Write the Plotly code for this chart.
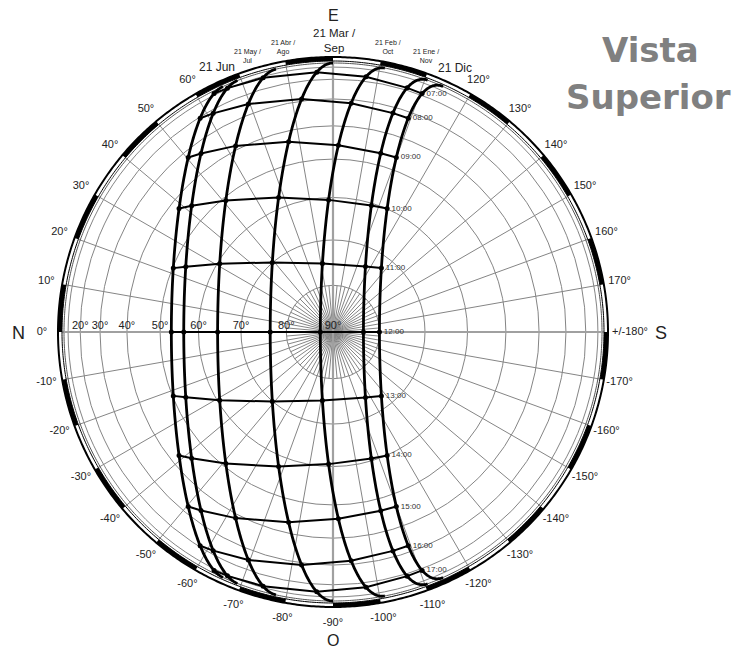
import numpy as np
import plotly.graph_objects as go

# ---------------- data ----------------
LATITUDE = -13.5  # degrees (southern hemisphere)
date_names = ["21 Jun", "21 May / Jul", "21 Abr / Ago", "21 Mar / Sep",
              "21 Feb / Oct", "21 Ene / Nov", "21 Dic"]
declinations = [23.44, 20.2, 11.9, 0.0, -10.8, -20.0, -23.44]
hours = [7, 8, 9, 10, 11, 12, 13, 14, 15, 16, 17]
hour_labels = ["07:00", "08:00", "09:00", "10:00", "11:00", "12:00",
               "13:00", "14:00", "15:00", "16:00", "17:00"]
alt_circles = [10, 20, 30, 40, 50, 60, 70, 80]
alt_label_values = [20, 30, 40, 50, 60, 70, 80, 90]
az_label_values = [0, 10, 20, 30, 40, 50, 60, 120, 130, 140, 150, 160, 170,
                   -170, -160, -150, -140, -130, -120, -110, -100, -90, -80,
                   -70, -60, -50, -40, -30, -20, -10]
az_label_texts = [f"{v}°" for v in az_label_values]

# ---------------- geometry ----------------
OFF = 8                # page body margin
W, H = 741 - 2 * OFF, 659 - 2 * OFF
CX, CY = 333 - OFF, 332 - OFF   # centre in figure pixels
R_PX = 269.0          # horizon radius in px
R_OUT = 275.0         # outer rim radius
R_BAND = 271.0        # inner edge of the rim band
R_DOM = 296.0         # polar domain radius (room for labels)

rmax = R_DOM / R_PX
r_out = R_OUT / R_PX
band_base = R_BAND / R_PX


def sun_position(decl, hour_angle):
    phi = np.radians(LATITUDE)
    d = np.radians(decl)
    h = np.radians(hour_angle)
    east = -np.cos(d) * np.sin(h)
    north = np.cos(phi) * np.sin(d) - np.sin(phi) * np.cos(d) * np.cos(h)
    up = np.sin(phi) * np.sin(d) + np.cos(phi) * np.cos(d) * np.cos(h)
    az = np.degrees(np.arctan2(east, north))
    r = np.sqrt(east ** 2 + north ** 2)  # orthographic projection = cos(alt)
    return az, r, up


fig = go.Figure()
GRID = "#858585"
FONT = "Liberation Sans, Arial"

# radial (azimuth) grid lines every 10 deg
th, rr = [], []
for a in range(0, 360, 10):
    th += [a, a, None]
    rr += [0, band_base, None]
fig.add_trace(go.Scatterpolar(r=rr, theta=th, mode="lines",
                              line=dict(color=GRID, width=1), hoverinfo="skip"))

# extra dense radial lines near the zenith
th, rr = [], []
r80 = np.cos(np.radians(80))
for a in range(5, 360, 10):
    th += [a, a, None]
    rr += [0, r80, None]
fig.add_trace(go.Scatterpolar(r=rr, theta=th, mode="lines",
                              line=dict(color=GRID, width=1), hoverinfo="skip"))

# rim band (alternating black segments)
band_theta = list(range(5, 360, 20))
fig.add_trace(go.Barpolar(r=[r_out - band_base] * len(band_theta), base=band_base,
                          theta=band_theta, width=[10] * len(band_theta),
                          marker=dict(color="black", line=dict(width=0)),
                          hoverinfo="skip"))

full = np.linspace(0, 360, 721)
for rad, col, wid in ((band_base, "black", 1), (1.0, "#555555", 1), (r_out, "black", 2)):
    fig.add_trace(go.Scatterpolar(r=[rad] * len(full), theta=full, mode="lines",
                                  line=dict(color=col, width=wid), hoverinfo="skip"))

# cardinal axes (thicker gray)
for a in (0, 90):
    fig.add_trace(go.Scatterpolar(r=[1, 0, 1], theta=[a, a, a + 180], mode="lines",
                                  line=dict(color="#a0a0a0", width=2.2),
                                  hoverinfo="skip"))

# sun paths
for decl in declinations:
    phi = np.radians(LATITUDE)
    h0 = np.degrees(np.arccos(np.clip(-np.tan(phi) * np.tan(np.radians(decl)), -1, 1)))
    ha = np.linspace(-h0, h0, 241)
    az, r, up = sun_position(decl, ha)
    fig.add_trace(go.Scatterpolar(r=r, theta=az, mode="lines",
                                  line=dict(color="black", width=2.8),
                                  hoverinfo="skip"))

# hour lines with dots
for hr in hours:
    ha = 15.0 * (hr - 12)
    azs, rs = [], []
    for decl in declinations:
        az, r, up = sun_position(decl, ha)
        azs.append(float(az))
        rs.append(float(r))
    fig.add_trace(go.Scatterpolar(r=rs, theta=azs, mode="lines+markers",
                                  line=dict(color="black", width=2),
                                  marker=dict(color="black", size=5),
                                  hoverinfo="skip"))

# hour labels next to the 21 Dic curve
lab_az, lab_r = [], []
for hr in hours:
    az, r, up = sun_position(declinations[-1], 15.0 * (hr - 12))
    lab_az.append(float(az))
    lab_r.append(float(r))
fig.add_trace(go.Scatterpolar(r=lab_r, theta=lab_az, mode="text",
                              text=["  " + t for t in hour_labels],
                              textposition="middle right", cliponaxis=False,
                              textfont=dict(size=8, color="#333333", family=FONT),
                              hoverinfo="skip"))

# altitude labels along the north axis
fig.add_trace(go.Scatterpolar(r=[float(np.cos(np.radians(a))) for a in alt_label_values],
                              theta=[0] * len(alt_label_values), mode="text",
                              text=[f"{a}°" for a in alt_label_values],
                              textposition="top center", cliponaxis=False,
                              textfont=dict(size=11, color="#222222", family=FONT),
                              hoverinfo="skip"))

# azimuth labels
fig.add_trace(go.Scatterpolar(r=[291 / R_PX] * len(az_label_values), theta=az_label_values,
                              mode="text", text=az_label_texts, cliponaxis=False,
                              textposition="middle center",
                              textfont=dict(size=11, color="#222222", family=FONT),
                              hoverinfo="skip"))
fig.add_trace(go.Scatterpolar(r=[279 / R_PX], theta=[180], mode="text", text=["+/-180°"],
                              textposition="middle right", cliponaxis=False,
                              textfont=dict(size=11, color="#222222", family=FONT),
                              hoverinfo="skip"))

fig.update_layout(
    width=W, height=H, margin=dict(l=0, r=0, t=0, b=0),
    paper_bgcolor="white", showlegend=False,
    polar=dict(
        domain=dict(x=[(CX - R_DOM) / W, (CX + R_DOM) / W],
                    y=[(H - CY - R_DOM) / H, (H - CY + R_DOM) / H]),
        bgcolor="rgba(0,0,0,0)",
        barmode="overlay",
        radialaxis=dict(range=[0, rmax], tickmode="array",
                        tickvals=[float(np.cos(np.radians(a))) for a in alt_circles],
                        showticklabels=False, ticks="", showline=False,
                        gridcolor=GRID, gridwidth=1),
        angularaxis=dict(rotation=180, direction="clockwise", showgrid=False,
                         showticklabels=False, ticks="", showline=False),
    ),
)


def px_ann(text, x, y, size, color="#222222", bold=False, family=FONT):
    fig.add_annotation(text=f"<b>{text}</b>" if bold else text,
                       x=(x - OFF) / W, y=1 - (y - OFF) / H, xref="paper", yref="paper",
                       xanchor="center", yanchor="middle", showarrow=False,
                       font=dict(size=size, color=color, family=family))


# compass letters (reference-page pixel positions)
px_ann("N", 18, 333, 18)
px_ann("E", 333, 16, 16)
px_ann("S", 661, 333, 18)
px_ann("O", 333, 640, 16)

# date labels at the sunrise positions
px_ann("21 Jun", 217, 67, 12)
px_ann("21 May /<br>Jul", 247, 56, 7)
px_ann("21 Abr /<br>Ago", 283, 48, 7)
px_ann("21 Mar /<br>Sep", 334, 41, 11.5)
px_ann("21 Feb /<br>Oct", 388, 47, 7)
px_ann("21 Ene /<br>Nov", 426, 56, 7)
px_ann("21 Dic", 455, 68, 12)

# title
px_ann("Vista", 650, 50, 34, color="#808080", bold=True, family="DejaVu Sans")
px_ann("Superior", 648, 97, 34, color="#808080", bold=True, family="DejaVu Sans")

fig.write_html("out.html")
